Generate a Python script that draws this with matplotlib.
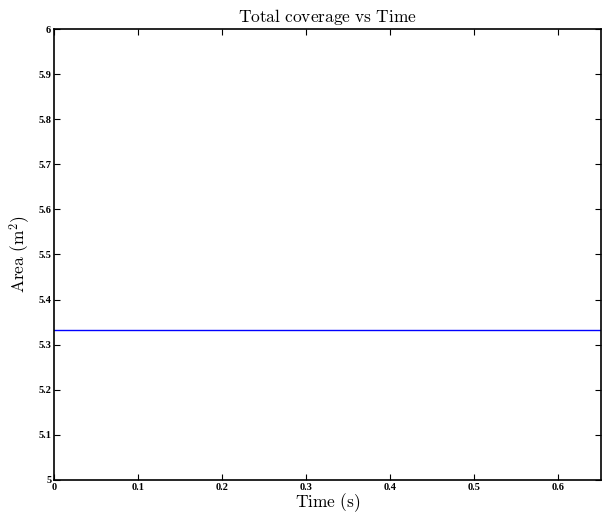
import matplotlib
matplotlib.use("Agg")
import matplotlib.pyplot as plt
import numpy as np

plt.rcParams['mathtext.fontset'] = 'cm'

# datos
tiempo = [0.0, 0.65]
area = [5.3333, 5.3333]
xticks = [0, 0.1, 0.2, 0.3, 0.4, 0.5, 0.6]
yticks = [5, 5.1, 5.2, 5.3, 5.4, 5.5, 5.6, 5.7, 5.8, 5.9, 6]

fig = plt.figure(figsize=(6.08, 5.17), dpi=100)
ax = fig.add_axes([0.0888, 0.0716, 0.8997, 0.8723])

ax.plot(tiempo, area, color='#0000ff', linewidth=1.0)

ax.set_xlim(0, 0.651)
ax.set_ylim(5, 6)
ax.set_xticks(xticks)
ax.set_yticks(yticks)
ax.set_xticklabels([f'{t:g}' for t in xticks])
ax.set_yticklabels([f'{t:g}' for t in yticks])
for lab in ax.get_xticklabels() + ax.get_yticklabels():
    lab.set_fontfamily('Liberation Serif')
    lab.set_fontweight('bold')
    lab.set_fontsize(7.5)

ax.tick_params(direction='in', top=True, right=True, length=4, width=0.8, pad=2)
for s in ax.spines.values():
    s.set_linewidth(1.2)

ax.set_title(r'$\mathrm{Total\ coverage\ vs\ Time}$', fontsize=12.5, pad=5)
ax.set_xlabel(r'$\mathrm{Time\ (s)}$', fontsize=12.5, labelpad=0)
ax.set_ylabel(r'$\mathrm{Area\ (m^2)}$', fontsize=12.5, labelpad=4)

fig.savefig('out.png', dpi=100)
